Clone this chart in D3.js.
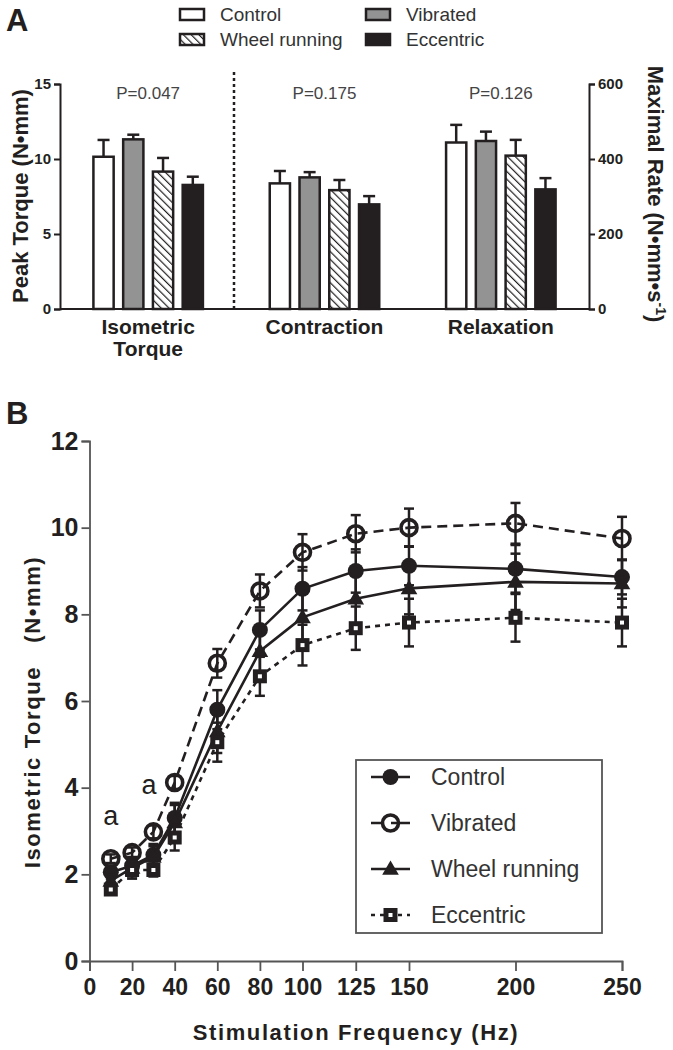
<!DOCTYPE html>
<html><head><meta charset="utf-8">
<script src="https://cdn.jsdelivr.net/npm/d3@7"></script>
<style>
body{margin:0;background:#fff;}
svg{font-family:"Liberation Sans",Arial,sans-serif;}
text{white-space:pre;}
</style></head>
<body>
<svg id="c" width="673" height="1050"></svg>
<script>
// ---------- Panel A data ----------
const groupsA = ["Control","Vibrated","Wheel running","Eccentric"];
const categoriesA = ["Isometric Torque","Contraction","Relaxation"];
const isometricVals = [10.15, 11.31, 9.16, 8.27];      // N•mm (left axis)
const isometricErr  = [1.12, 0.31, 0.91, 0.55];
const contractionVals = [335, 351, 317, 279];          // N•mm•s-1 (right axis)
const contractionErr  = [33, 14, 27, 22];
const relaxationVals  = [444, 448, 409, 319];
const relaxationErr   = [47, 25, 42, 30];
const pValues = ["P=0.047","P=0.175","P=0.126"];
const leftTicksA = [0,5,10,15];
const rightTicksA = [0,200,400,600];

// ---------- Panel B data ----------
const freqs = [10,20,30,40,60,80,100,125,150,200,250];
const controlB   = [2.05, 2.2, 2.45, 3.3, 5.8, 7.64, 8.59, 9.0, 9.12, 9.05, 8.86];
const controlBErr= [0.15, 0.2, 0.25, 0.35, 0.45, 0.45, 0.5, 0.5, 0.45, 0.55, 0.4];
const vibratedB   = [2.36, 2.5, 2.98, 4.12, 6.87, 8.54, 9.43, 9.86, 10.0, 10.1, 9.75];
const vibratedBErr= [0.1, 0.12, 0.15, 0.15, 0.33, 0.38, 0.42, 0.43, 0.44, 0.47, 0.5];
const wheelB   = [1.85, 2.15, 2.4, 3.2, 5.3, 7.15, 7.93, 8.36, 8.6, 8.75, 8.71];
const wheelBErr= [0.2, 0.2, 0.25, 0.4, 0.5, 0.55, 0.55, 0.6, 0.6, 0.65, 0.55];
const eccentricB   = [1.65, 2.1, 2.1, 2.85, 5.05, 6.57, 7.29, 7.68, 7.81, 7.92, 7.81];
const eccentricBErr= [0.1, 0.2, 0.15, 0.3, 0.45, 0.45, 0.47, 0.5, 0.55, 0.55, 0.55];
const xTicksB = [0,20,40,60,80,100,125,150,200,250];
const yTicksB = [0,2,4,6,8,10,12];
const annotB = [{f:10, v:3.15, t:"a"},{f:28, v:3.85, t:"a"}];

const ink = "#231f20";
const svg = d3.select("#c");
const defs = svg.append("defs");
const pat = defs.append("pattern").attr("id","hatch").attr("patternUnits","userSpaceOnUse")
  .attr("width",5.5).attr("height",5.5).attr("patternTransform","rotate(-45)");
pat.append("rect").attr("width",5.5).attr("height",5.5).attr("fill","#fff");
pat.append("line").attr("x1",0).attr("y1",0).attr("x2",0).attr("y2",5.5).attr("stroke",ink).attr("stroke-width",2.4);

const fills = ["#ffffff","#939393","url(#hatch)",ink];

// ================= PANEL A =================
svg.append("text").attr("x",6).attr("y",31).attr("font-size",31).attr("font-weight","bold").attr("fill",ink).text("A");

// legend A
const legA = [{x:179,y:8},{x:365,y:8},{x:179,y:33},{x:365,y:33}];
groupsA.forEach((g,i)=>{
  const L = legA[i];
  svg.append("rect").attr("x",L.x+1).attr("y",L.y+1).attr("width",24).attr("height",11)
    .attr("fill",fills[i]).attr("stroke",ink).attr("stroke-width",2.5);
  svg.append("text").attr("x",L.x+41).attr("y",L.y+13).attr("font-size",19).attr("fill","#333").text(g);
});

const yA = d3.scaleLinear().domain([0,15]).range([309,84]);
const yA2 = d3.scaleLinear().domain([0,600]).range([309,84]);
const xA = d3.scaleBand().domain(categoriesA).range([60,589]).padding(0);
const xAin = d3.scaleBand().domain(groupsA).range([-54.75,54.75]).paddingInner(0.32);

const axL = svg.append("g").attr("transform","translate(60,0)")
  .call(d3.axisLeft(yA).tickValues(leftTicksA).tickSize(6).tickPadding(3));
const axR = svg.append("g").attr("transform","translate(589,0)")
  .call(d3.axisRight(yA2).tickValues(rightTicksA).tickSize(6).tickPadding(3));
[axL,axR].forEach(a=>{
  a.select(".domain").attr("stroke",ink).attr("stroke-width",2);
  a.selectAll(".tick line").attr("stroke",ink).attr("stroke-width",2);
  a.selectAll(".tick text").attr("font-size",15).attr("font-weight","bold").attr("fill",ink).attr("font-family","Liberation Sans, Arial");
});
svg.append("line").attr("x1",60).attr("x2",589).attr("y1",yA(0)).attr("y2",yA(0)).attr("stroke",ink).attr("stroke-width",2);

// bars
const catData = [
  {cat:categoriesA[0], vals:isometricVals, errs:isometricErr, scale:yA},
  {cat:categoriesA[1], vals:contractionVals, errs:contractionErr, scale:yA2},
  {cat:categoriesA[2], vals:relaxationVals, errs:relaxationErr, scale:yA2}
];
catData.forEach((c,ci)=>{
  const cx = xA(c.cat)+xA.bandwidth()/2;
  const g = svg.append("g");
  groupsA.forEach((grp,i)=>{
    const bx = cx + xAin(grp);
    const bw = xAin.bandwidth();
    const top = c.scale(c.vals[i]);
    const et = c.scale(c.vals[i]+c.errs[i]);
    g.append("line").attr("x1",bx+bw/2).attr("x2",bx+bw/2).attr("y1",top).attr("y2",et).attr("stroke",ink).attr("stroke-width",2.5);
    g.append("line").attr("x1",bx+bw/2-6).attr("x2",bx+bw/2+6).attr("y1",et).attr("y2",et).attr("stroke",ink).attr("stroke-width",2.5);
    g.append("rect").attr("x",bx).attr("y",top).attr("width",bw).attr("height",c.scale(0)-top)
      .attr("fill",fills[i]).attr("stroke",ink).attr("stroke-width",2.5);
  });
  svg.append("text").attr("x",cx).attr("y",99).attr("text-anchor","middle").attr("font-size",17).attr("fill","#444").text(pValues[ci]);
  const words = c.cat.split(" ");
  words.forEach((w,wi)=>{
    svg.append("text").attr("x",cx).attr("y",334+wi*22).attr("text-anchor","middle")
      .attr("font-size",21).attr("font-weight","bold").attr("fill",ink).text(w);
  });
});
// dotted separator between first and second category
const sepX = xA(categoriesA[1]) - (xA.bandwidth()/2 - 54.75)/2 - 8;
svg.append("line").attr("x1",234).attr("x2",234).attr("y1",72).attr("y2",309)
  .attr("stroke",ink).attr("stroke-width",2.5).attr("stroke-dasharray","3,3");

// axis titles A
svg.append("text").attr("transform","translate(28,196) rotate(-90)").attr("text-anchor","middle")
  .attr("font-size",22).attr("font-weight","bold").attr("fill",ink).text("Peak Torque (N•mm)");
const rt = svg.append("text").attr("transform","translate(648,194) rotate(90)").attr("text-anchor","middle")
  .attr("font-size",22).attr("font-weight","bold").attr("fill",ink);
rt.append("tspan").text("Maximal Rate (N•mm•s");
rt.append("tspan").attr("dy",-8).attr("font-size",14).text("-1");
rt.append("tspan").attr("dy",8).text(")");

// ================= PANEL B =================
svg.append("text").attr("x",6).attr("y",424).attr("font-size",31).attr("font-weight","bold").attr("fill",ink).text("B");

const xB = d3.scaleLinear().domain([0,250]).range([89.5,622]);
const yB = d3.scaleLinear().domain([0,12]).range([961,441]);

const axBY = svg.append("g").attr("transform","translate(89.5,0)")
  .call(d3.axisLeft(yB).tickValues(yTicksB).tickSize(8).tickPadding(3).tickFormat(d3.format("d")));
const axBX = svg.append("g").attr("transform","translate(0,961)")
  .call(d3.axisBottom(xB).tickValues(xTicksB).tickSize(10).tickPadding(8).tickFormat(d3.format("d")));
[axBY,axBX].forEach(a=>{
  a.select(".domain").attr("stroke","#555").attr("stroke-width",1.8);
  a.selectAll(".tick line").attr("stroke","#555").attr("stroke-width",1.8);
  a.selectAll(".tick text").attr("font-size",23).attr("font-weight","bold").attr("fill",ink)
    .attr("font-family","Liberation Sans Narrow, Liberation Sans, Arial");
});
axBY.selectAll(".tick text").attr("font-size",25);

svg.append("text").attr("transform","translate(40,712) rotate(-90)").attr("text-anchor","middle")
  .attr("font-size",22).attr("font-weight","bold").attr("fill",ink).attr("letter-spacing",1.6).text("Isometric Torque   (N•mm)");
svg.append("text").attr("x",356).attr("y",1040).attr("text-anchor","middle")
  .attr("font-size",22).attr("font-weight","bold").attr("fill",ink).attr("letter-spacing",1.6).text("Stimulation Frequency (Hz)");

const seriesB = [
  {name:"Control", vals:controlB, errs:controlBErr, dash:null, marker:"circleFill"},
  {name:"Vibrated", vals:vibratedB, errs:vibratedBErr, dash:"10,6", marker:"circleOpen"},
  {name:"Wheel running", vals:wheelB, errs:wheelBErr, dash:null, marker:"triangle"},
  {name:"Eccentric", vals:eccentricB, errs:eccentricBErr, dash:"5,5", marker:"square"}
];
const line = d3.line().x(d=>xB(d.f)).y(d=>yB(d.v));

function drawMarker(g, type, x, y){
  if(type==="circleFill"){
    g.append("circle").attr("cx",x).attr("cy",y).attr("r",8).attr("fill",ink);
  } else if(type==="circleOpen"){
    g.append("circle").attr("cx",x).attr("cy",y).attr("r",8).attr("fill","none").attr("stroke",ink).attr("stroke-width",3.6);
  } else if(type==="triangle"){
    g.append("path").attr("d",d3.symbol().type(d3.symbolTriangle).size(120)()).attr("transform",`translate(${x},${y+1})`).attr("fill",ink);
  } else {
    g.append("rect").attr("x",x-7).attr("y",y-7).attr("width",14).attr("height",14).attr("fill",ink);
    g.append("rect").attr("x",x-2).attr("y",y-2).attr("width",4).attr("height",4).attr("fill","#fff");
  }
}

seriesB.forEach(s=>{
  const pts = freqs.map((f,i)=>({f, v:s.vals[i], e:s.errs[i]}));
  const g = svg.append("g");
  pts.forEach(p=>{
    g.append("line").attr("x1",xB(p.f)).attr("x2",xB(p.f)).attr("y1",yB(p.v-p.e)).attr("y2",yB(p.v+p.e)).attr("stroke",ink).attr("stroke-width",2.5);
    [p.v-p.e,p.v+p.e].forEach(v=>g.append("line").attr("x1",xB(p.f)-5).attr("x2",xB(p.f)+5).attr("y1",yB(v)).attr("y2",yB(v)).attr("stroke",ink).attr("stroke-width",2.5));
  });
  g.append("path").datum(pts).attr("d",line).attr("fill","none").attr("stroke",ink).attr("stroke-width",2.6)
    .attr("stroke-dasharray",s.dash);
  pts.forEach(p=>drawMarker(g,s.marker,xB(p.f),yB(p.v)));
});

annotB.forEach(a=>{
  svg.append("text").attr("x",xB(a.f)).attr("y",yB(a.v)).attr("text-anchor","middle").attr("font-size",27).attr("fill",ink).text(a.t);
});

// legend B
const lg = svg.append("g");
lg.append("rect").attr("x",356).attr("y",760).attr("width",246).attr("height",173).attr("fill","#fff").attr("stroke","#555").attr("stroke-width",1.8);
seriesB.forEach((s,i)=>{
  const y = 777 + i*46;
  lg.append("line").attr("x1",371).attr("x2",410).attr("y1",y).attr("y2",y).attr("stroke",ink).attr("stroke-width",2.6)
    .attr("stroke-dasharray", s.dash ? (s.name==="Vibrated" ? "13,7,19" : "4,5") : null);
  drawMarker(lg, s.marker, 390.5, y);
  lg.append("text").attr("x",431).attr("y",y+8).attr("font-size",23).attr("fill","#333").text(s.name);
});
</script>
</body></html>
